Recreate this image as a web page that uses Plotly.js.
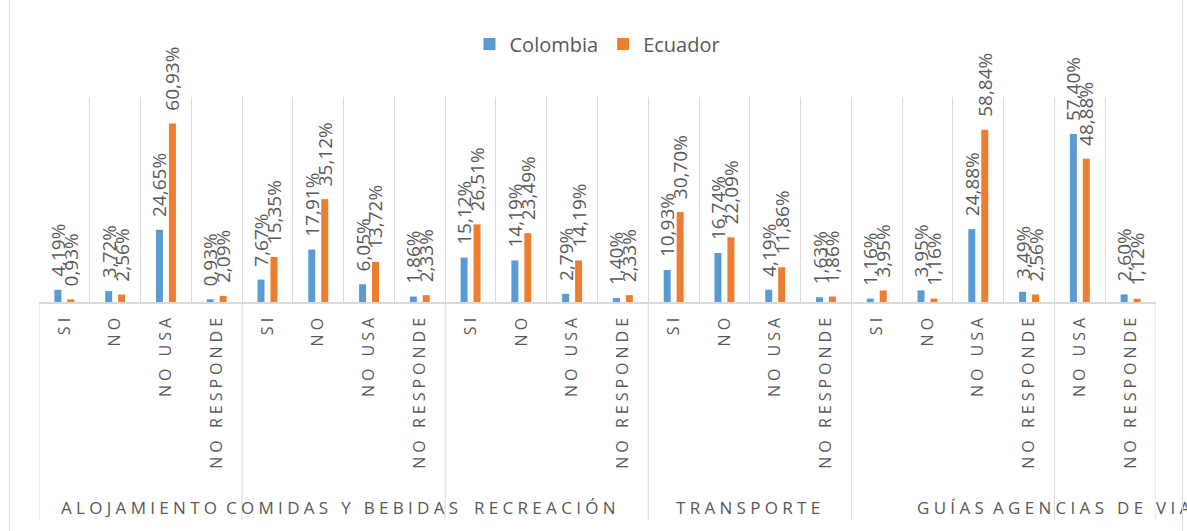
<!DOCTYPE html>
<html><head><meta charset="utf-8">
<script src="https://cdn.plot.ly/plotly-3.0.1.min.js"></script>
<style>
body{margin:0;background:#fff;}
#chart{position:absolute;left:0;top:0;width:1187px;height:531px;}
#frame{position:absolute;left:9px;top:0;width:1172px;height:531px;border-left:1px solid #d9d9d9;border-right:1px solid #d9d9d9;pointer-events:none;}
.xtick text{letter-spacing:4px;}
.annotation-text{letter-spacing:4.3px;}
</style></head>
<body><div id="chart"></div><div id="frame"></div>
<script>
const groups = ["ALOJAMIENTO","ALOJAMIENTO","ALOJAMIENTO","ALOJAMIENTO",
  "COMIDAS Y BEBIDAS","COMIDAS Y BEBIDAS","COMIDAS Y BEBIDAS","COMIDAS Y BEBIDAS",
  "RECREACIÓN","RECREACIÓN","RECREACIÓN","RECREACIÓN",
  "TRANSPORTE","TRANSPORTE","TRANSPORTE","TRANSPORTE",
  "GUÍAS","GUÍAS","GUÍAS","GUÍAS",
  "AGENCIAS DE VIAJE","AGENCIAS DE VIAJE"];
const answers = ["SI","NO","NO USA","NO RESPONDE",
  "SI","NO","NO USA","NO RESPONDE",
  "SI","NO","NO USA","NO RESPONDE",
  "SI","NO","NO USA","NO RESPONDE",
  "SI","NO","NO USA","NO RESPONDE",
  "NO USA","NO RESPONDE"];
const colombia = [4.19,3.72,24.65,0.93, 7.67,17.91,6.05,1.86, 15.12,14.19,2.79,1.40, 10.93,16.74,4.19,1.63, 1.16,3.95,24.88,3.49, 57.40,2.60];
const ecuador  = [0.93,2.56,60.93,2.09, 15.35,35.12,13.72,2.33, 26.51,23.49,14.19,2.33, 30.70,22.09,11.86,1.86, 3.95,1.16,58.84,2.56, 48.88,1.12];

// unique category keys built from the two label arrays
const cats = groups.map((g, i) => g + ' | ' + answers[i]);

const labelFont = {family:'Open Sans', size:19, color:'#595959'};
function series(name, vals, color){
  return {type:'bar', name:name, x:cats, y:vals,
    marker:{color:color},
    texttemplate:'\u00a0\u00a0%{y:.2f}%', textposition:'outside', textangle:-90,
    textfont:labelFont, outsidetextfont:labelFont, constraintext:'none', cliponaxis:false,
    hoverinfo:'skip'};
}
const data = [series('Colombia', colombia, '#5B9BD5'), series('Ecuador', ecuador, '#ED7D31')];

// group labels and group dividers derived from the groups array
const annotations = [];
const shapes = [];
let start = 0;
for (let i = 1; i <= groups.length; i++) {
  if (i === groups.length || groups[i] !== groups[start]) {
    annotations.push({xref:'x', yref:'paper', x:(start + i - 1) / 2, y:-1.0,
      text:groups[start], showarrow:false, xanchor:'center', yanchor:'middle',
      font:{family:'Open Sans', size:17, color:'#595959'}});
    shapes.push({type:'line', xref:'x', yref:'paper', x0:start - 0.5, x1:start - 0.5, y0:0, y1:-1.065,
      line:{color:'#d9d9d9', width:1}});
    start = i;
  }
}
shapes.push({type:'line', xref:'x', yref:'paper', x0:groups.length - 0.5, x1:groups.length - 0.5, y0:0, y1:-1.065,
  line:{color:'#d9d9d9', width:1}});

const layout = {
  width:1187, height:531,
  margin:{l:39, r:31, t:97, b:229},
  paper_bgcolor:'rgba(0,0,0,0)', plot_bgcolor:'rgba(0,0,0,0)',
  separators:',.',
  barmode:'group', bargap:0.49, bargroupgap:0.46,
  showlegend:true,
  legend:{orientation:'h', x:0.5, xanchor:'center', y:1.258, yanchor:'middle',
    font:{family:'Open Sans', size:20, color:'#595959'}},
  xaxis:{type:'category', tickson:'boundaries', showgrid:true, gridcolor:'#d9d9d9', gridwidth:1,
    showline:true, linecolor:'#d9d9d9', linewidth:1.5, ticks:'', tickangle:-90,
    tickmode:'array', tickvals:cats, ticktext:answers, ticklabelstandoff:4,
    tickfont:{family:'Open Sans', size:16, color:'#595959'},
    zeroline:false, automargin:false, range:[-0.5, groups.length - 0.5]},
  yaxis:{range:[0,70], visible:false, fixedrange:true},
  annotations:annotations,
  shapes:shapes
};
Plotly.newPlot('chart', data, layout, {displayModeBar:false, staticPlot:true});
</script>
</body></html>
